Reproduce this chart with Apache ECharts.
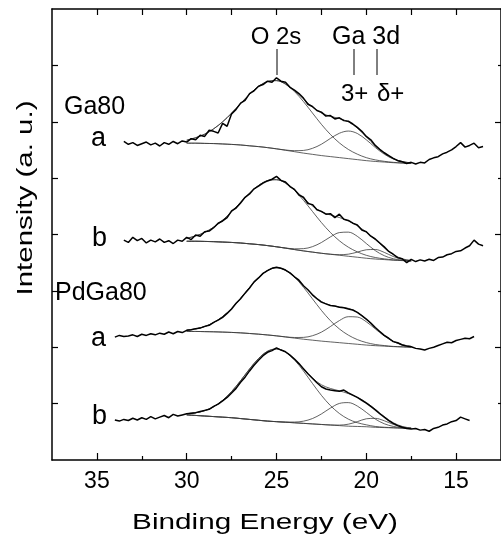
<!DOCTYPE html>
<html><head><meta charset="utf-8">
<script src="https://cdn.jsdelivr.net/npm/echarts@6/dist/echarts.min.js"></script>
<style>html,body{margin:0;padding:0;background:#fff}#c{width:501px;height:536px}</style>
</head><body><div id="c"></div>
<script>
// ---- measured spectra (binding energy decreasing, step 0.25 eV) ----
const dataStep = 0.25;
const ga80aStart = 33.5;
const ga80a = [5.65,5.60,5.63,5.58,5.61,5.64,5.59,5.62,5.57,5.63,
5.60,5.65,5.61,5.66,5.64,5.70,5.68,5.76,5.74,5.85,
5.83,5.80,5.97,5.92,6.14,6.22,6.33,6.38,6.50,6.55,
6.63,6.66,6.72,6.70,6.78,6.72,6.70,6.61,6.56,6.50,
6.42,6.31,6.27,6.20,6.17,6.10,6.11,6.05,6.07,6.02,
6.01,5.96,5.90,5.83,5.74,5.68,5.58,5.51,5.45,5.40,
5.35,5.31,5.29,5.26,5.28,5.25,5.28,5.27,5.33,5.36,
5.38,5.43,5.46,5.50,5.56,5.63,5.55,5.58,5.62,5.54,5.56];
const ga80bStart = 33.5;
const ga80b = [3.90,3.86,3.95,3.89,3.93,3.85,3.90,3.87,3.92,3.86,
3.89,3.84,3.90,3.88,3.95,3.91,3.99,3.97,4.05,4.06,
4.12,4.20,4.24,4.30,4.42,4.47,4.56,4.66,4.72,4.81,
4.86,4.91,4.95,4.98,5.03,4.96,4.93,4.85,4.80,4.70,
4.66,4.55,4.53,4.44,4.41,4.36,4.37,4.30,4.36,4.27,
4.25,4.20,4.17,4.08,4.05,3.97,3.92,3.85,3.78,3.70,
3.65,3.59,3.57,3.50,3.56,3.52,3.55,3.53,3.56,3.54,
3.59,3.60,3.64,3.66,3.70,3.71,3.76,3.80,3.90,3.83,3.80];
const pdga80aStart = 34.0;
const pdga80a = [2.18,2.21,2.19,2.20,2.22,2.19,2.23,2.21,2.24,2.22,
2.25,2.23,2.27,2.24,2.28,2.26,2.30,2.31,2.33,2.34,
2.37,2.39,2.44,2.48,2.53,2.60,2.68,2.78,2.86,2.96,
3.05,3.16,3.23,3.31,3.36,3.40,3.42,3.40,3.37,3.32,
3.25,3.19,3.09,3.02,2.93,2.86,2.80,2.77,2.74,2.73,
2.71,2.70,2.68,2.66,2.62,2.56,2.50,2.43,2.35,2.28,
2.21,2.16,2.10,2.08,2.04,2.02,2.01,1.98,1.97,1.95,
1.98,2.00,2.03,2.06,2.09,2.08,2.12,2.14,2.16,2.15,2.19];
const pdga80bStart = 34.0;
const pdga80b = [0.71,0.69,0.72,0.70,0.74,0.71,0.75,0.72,0.77,0.73,
0.76,0.79,0.75,0.81,0.78,0.80,0.82,0.83,0.84,0.86,
0.88,0.90,0.95,0.99,1.05,1.11,1.19,1.27,1.38,1.47,
1.58,1.68,1.77,1.85,1.91,1.94,1.99,1.95,1.92,1.86,
1.79,1.71,1.62,1.53,1.45,1.37,1.30,1.26,1.24,1.23,
1.22,1.24,1.19,1.15,1.11,1.06,1.01,0.95,0.89,0.82,
0.76,0.70,0.65,0.61,0.58,0.56,0.55,0.56,0.53,0.54,
0.51,0.56,0.58,0.62,0.64,0.68,0.70,0.76,0.73,0.70];

// ---- fitted curves (30 -> 17.5 eV, step 0.5 eV) ----
const fitStart = 30, fitStep = 0.5;
const bg1 = [5.62,5.62,5.616,5.613,5.606,5.598,5.588,5.573,5.559,5.541,5.519,5.494,5.469,5.444,5.422,5.400,5.382,5.364,5.346,5.328,5.310,5.296,5.285,5.274,5.267,5.26];
const o2s1 = [5.673,5.717,5.779,5.874,5.999,6.152,6.322,6.487,6.626,6.713,6.729,6.666,6.536,6.358,6.156,5.954,5.775,5.625,5.509,5.425,5.363,5.324,5.298,5.280,5.269,5.261];
const ga3p1 = [5.62,5.62,5.616,5.613,5.606,5.598,5.588,5.573,5.559,5.541,5.520,5.499,5.487,5.491,5.528,5.601,5.704,5.796,5.835,5.792,5.680,5.544,5.425,5.340,5.293,5.269];
const env1 = [5.673,5.717,5.779,5.874,5.999,6.152,6.322,6.487,6.626,6.713,6.730,6.671,6.554,6.405,6.262,6.155,6.097,6.057,5.998,5.889,5.733,5.572,5.438,5.346,5.295,5.270];

const bg2 = [3.88,3.88,3.877,3.873,3.866,3.859,3.849,3.835,3.821,3.803,3.782,3.758,3.733,3.709,3.688,3.667,3.649,3.632,3.614,3.597,3.579,3.565,3.555,3.544,3.537,3.53];
const o2s2 = [3.932,3.975,4.037,4.130,4.253,4.404,4.571,4.733,4.870,4.956,4.972,4.911,4.783,4.607,4.410,4.212,4.036,3.889,3.775,3.692,3.631,3.592,3.568,3.550,3.539,3.531];
const ga3p2 = [3.88,3.88,3.877,3.873,3.866,3.859,3.849,3.835,3.821,3.803,3.782,3.761,3.746,3.749,3.784,3.858,3.957,4.034,4.042,3.968,3.840,3.714,3.624,3.570,3.545,3.532];
const gadp2 = [3.88,3.88,3.877,3.873,3.866,3.859,3.849,3.835,3.821,3.803,3.782,3.758,3.733,3.709,3.688,3.667,3.651,3.642,3.651,3.687,3.729,3.734,3.683,3.610,3.560,3.535];
const env2 = [3.932,3.975,4.037,4.130,4.253,4.404,4.571,4.733,4.870,4.956,4.972,4.914,4.796,4.647,4.507,4.403,4.347,4.301,4.240,4.153,4.042,3.910,3.765,3.642,3.570,3.538];

const bg3 = [2.28,2.28,2.277,2.274,2.269,2.263,2.255,2.244,2.232,2.218,2.202,2.182,2.162,2.143,2.126,2.109,2.095,2.081,2.067,2.053,2.039,2.028,2.020,2.011,2.006,2.0];
const o2s3 = [2.302,2.326,2.367,2.438,2.544,2.689,2.867,3.059,3.236,3.363,3.412,3.365,3.244,3.065,2.860,2.654,2.472,2.325,2.215,2.136,2.083,2.049,2.030,2.015,2.008,2.001];
const ga3p3 = [2.28,2.28,2.277,2.274,2.269,2.263,2.255,2.244,2.232,2.218,2.202,2.185,2.173,2.175,2.204,2.268,2.367,2.473,2.542,2.536,2.452,2.325,2.200,2.102,2.045,2.014];
const env3 = [2.302,2.326,2.367,2.438,2.544,2.689,2.867,3.059,3.236,3.363,3.412,3.368,3.255,3.097,2.938,2.813,2.744,2.717,2.690,2.619,2.496,2.346,2.210,2.106,2.047,2.015];

const bg4 = [0.80,0.79,0.78,0.77,0.76,0.75,0.735,0.72,0.705,0.69,0.68,0.67,0.66,0.65,0.64,0.63,0.62,0.61,0.60,0.595,0.59,0.58,0.575,0.57,0.565,0.56];
const o2s4 = [0.822,0.838,0.874,0.944,1.057,1.214,1.406,1.614,1.800,1.928,1.970,1.914,1.775,1.579,1.359,1.147,0.966,0.825,0.725,0.662,0.624,0.595,0.581,0.573,0.566,0.560];
const ga3p4 = [0.80,0.79,0.78,0.77,0.76,0.75,0.735,0.72,0.705,0.69,0.68,0.673,0.673,0.689,0.735,0.817,0.921,1.003,1.018,0.957,0.845,0.726,0.643,0.596,0.573,0.562];
const gadp4 = [0.80,0.79,0.78,0.77,0.76,0.75,0.735,0.72,0.705,0.69,0.68,0.67,0.66,0.65,0.64,0.63,0.622,0.619,0.635,0.680,0.731,0.739,0.696,0.632,0.587,0.565];
const env4 = [0.822,0.838,0.874,0.944,1.057,1.214,1.406,1.614,1.800,1.928,1.970,1.917,1.788,1.618,1.454,1.334,1.269,1.227,1.178,1.109,1.020,0.900,0.770,0.661,0.596,0.567];

// ---- ticks / labels ----
const xMajor = [15, 20, 25, 30, 35];
const xMinor = [17.5, 22.5, 27.5, 32.5];
const xTop = [15, 17.5, 20, 22.5, 25, 27.5, 30, 32.5, 35];
const yLeftTicks = [1, 2, 3, 4, 5, 6, 7];
const yRightMajor = [2, 4, 6];
const yRightMinor = [1, 3, 5, 7];

function pairs(start, step, arr) { return arr.map((v, i) => [start - i * step, v]); }

const FONT = '"Liberation Sans", Arial, sans-serif';
const series = [];
function fit(arr) {
  series.push({ type: 'line', data: pairs(fitStart, fitStep, arr), showSymbol: false, smooth: 0.35, silent: true,
    lineStyle: { color: '#3a3a3a', width: 0.8 }, z: 2 });
}
function meas(start, arr) {
  series.push({ type: 'line', data: pairs(start, dataStep, arr), showSymbol: false, silent: true,
    lineStyle: { color: '#000', width: 1.5 }, z: 3 });
}
[bg1, o2s1, ga3p1, env1, bg2, o2s2, ga3p2, gadp2, env2, bg3, o2s3, ga3p3, env3, bg4, o2s4, ga3p4, gadp4, env4].forEach(fit);
meas(ga80aStart, ga80a); meas(ga80bStart, ga80b); meas(pdga80aStart, pdga80a); meas(pdga80bStart, pdga80b);

const axLine = { show: true, onZero: false, lineStyle: { color: '#000', width: 1.5 } };
const tickStyle = { color: '#000', width: 1.2 };
const baseX = { type: 'value', min: 12.5, max: 37.5, inverse: true, splitLine: { show: false } };
const baseY = { type: 'value', min: 0, max: 8, splitLine: { show: false }, axisLabel: { show: false } };

function txt(text, x, y, size, align, extra) {
  return Object.assign({ type: 'text', x: x, y: y, silent: true,
    style: { text: text, font: size + 'px ' + FONT, fill: '#000', align: align, verticalAlign: 'middle',
      textAlign: align, textVerticalAlign: 'middle' } }, extra || {});
}
function vline(x, y1, y2) {
  return { type: 'line', silent: true, shape: { x1: x, y1: y1, x2: x, y2: y2 }, style: { stroke: '#000', lineWidth: 1 } };
}

const chart = echarts.init(document.getElementById('c'), null, { renderer: 'canvas' });
chart.setOption({
  animation: false,
  backgroundColor: '#fff',
  grid: { left: 52, right: -2, top: 9, bottom: 76, containLabel: false },
  xAxis: [
    Object.assign({}, baseX, { position: 'bottom', axisLine: axLine,
      axisTick: { show: true, inside: true, length: 7, customValues: xMajor, lineStyle: tickStyle },
      axisLabel: { show: true, customValues: xMajor, color: '#000', fontSize: 23, fontFamily: FONT, margin: 10 } }),
    Object.assign({}, baseX, { position: 'bottom', axisLine: { show: false },
      axisTick: { show: true, inside: true, length: 4, customValues: xMinor, lineStyle: tickStyle },
      axisLabel: { show: false } }),
    Object.assign({}, baseX, { position: 'top', axisLine: axLine,
      axisTick: { show: true, inside: true, length: 6, customValues: xTop, lineStyle: tickStyle },
      axisLabel: { show: false } })
  ],
  yAxis: [
    Object.assign({}, baseY, { position: 'left', axisLine: axLine,
      axisTick: { show: true, inside: true, length: 6, customValues: yLeftTicks, lineStyle: tickStyle } }),
    Object.assign({}, baseY, { position: 'right', axisLine: axLine,
      axisTick: { show: true, inside: true, length: 6, customValues: yRightMajor, lineStyle: tickStyle } }),
    Object.assign({}, baseY, { position: 'right', axisLine: { show: false },
      axisTick: { show: true, inside: true, length: 3, customValues: yRightMinor, lineStyle: tickStyle } })
  ],
  series: series,
  graphic: [
    txt('Binding Energy (eV)', 265, 523, 22, 'center', { scaleX: 1.35 }),
    txt('Intensity (a. u.)', 26, 198, 22, 'center', { rotation: Math.PI / 2, scaleX: 1.34 }),
    txt('Ga80', 64, 107, 25, 'left'),
    txt('a', 91, 139, 27, 'left'),
    txt('b', 92, 239, 27, 'left'),
    txt('PdGa80', 55, 293, 25, 'left'),
    txt('a', 91, 339, 27, 'left'),
    txt('b', 92, 417, 27, 'left'),
    txt('O 2s', 276, 37, 24, 'center'),
    txt('Ga 3d', 366, 37, 25, 'center'),
    txt('3+', 341, 94, 24, 'left'),
    txt('\u03b4+', 377, 94, 24, 'left'),
    vline(277, 49, 75),
    vline(354, 49, 75),
    vline(377, 49, 75)
  ]
});
</script>
</body></html>
